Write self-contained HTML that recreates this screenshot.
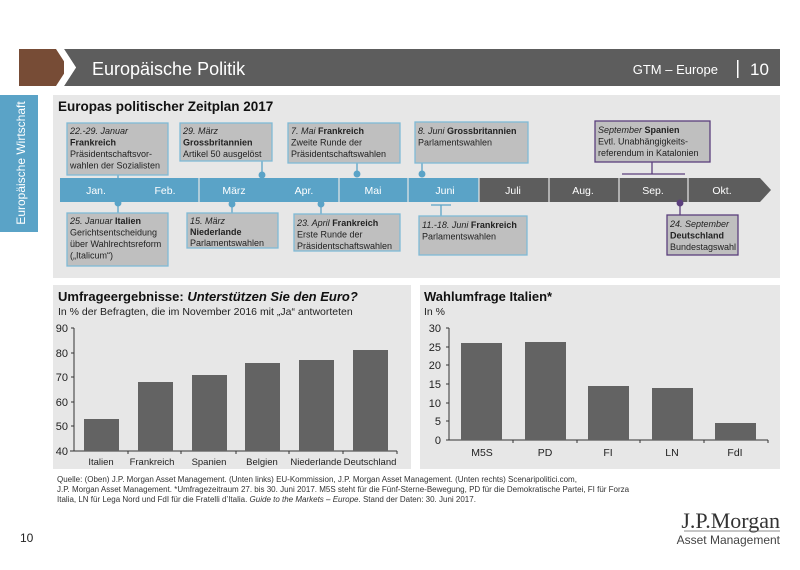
<!DOCTYPE html>
<html><head><meta charset="utf-8"><style>
body{margin:0;width:800px;height:565px;background:#fff;overflow:hidden;font-family:"Liberation Sans",sans-serif;}
svg text{font-family:"Liberation Sans",sans-serif;}
</style></head><body>
<svg width="800" height="565" viewBox="0 0 800 565" xmlns="http://www.w3.org/2000/svg">
<!-- header -->
<rect x="19" y="49" width="45" height="37" fill="#774c36"/>
<polygon points="64,49 780,49 780,86 64,86 76,67.5" fill="#5d5d5d"/>
<polygon points="56,49 64,49 76,67.5 64,86 56,86 68,67.5" fill="#fff"/>
<text x="92" y="75" font-size="18" fill="#fff">Europäische Politik</text>
<text x="718" y="74" font-size="13" fill="#fff" text-anchor="end">GTM – Europe</text>
<rect x="737" y="60" width="1.5" height="18" fill="#fff"/>
<text x="750" y="75" font-size="17" fill="#fff">10</text>
<!-- sidebar -->
<rect x="0" y="95" width="38" height="137" fill="#5aa3c7"/>
<text transform="translate(25,163) rotate(-90)" font-size="12" fill="#fff" text-anchor="middle">Europäische Wirtschaft</text>
<!-- top panel -->
<rect x="53" y="95" width="727" height="183" fill="#e7e7e7"/>
<text x="58" y="111" font-size="13.5" font-weight="bold" fill="#111">Europas politischer Zeitplan 2017</text>
<!-- timeline -->
<rect x="60" y="178" width="419" height="24" fill="#5aa3c7"/>
<polygon points="479,178 760,178 771,190 760,202 479,202" fill="#5d5d5d"/>
<g stroke="#e7e7e7" stroke-width="1.2"><line x1="199" y1="178" x2="199" y2="202"/><line x1="339" y1="178" x2="339" y2="202"/><line x1="408" y1="178" x2="408" y2="202"/><line x1="479" y1="178" x2="479" y2="202"/><line x1="549" y1="178" x2="549" y2="202"/><line x1="619" y1="178" x2="619" y2="202"/><line x1="688" y1="178" x2="688" y2="202"/></g>
<g font-size="10.5" fill="#fff" text-anchor="middle">
<text x="96" y="194">Jan.</text><text x="165" y="194">Feb.</text><text x="234" y="194">März</text><text x="304" y="194">Apr.</text><text x="373" y="194">Mai</text><text x="445" y="194">Juni</text><text x="513" y="194">Juli</text><text x="583" y="194">Aug.</text><text x="653" y="194">Sep.</text><text x="722" y="194">Okt.</text>
</g>
<!-- connectors -->
<g stroke="#5aa3c7" stroke-width="1.3" fill="#5aa3c7">
<line x1="118" y1="175" x2="118" y2="178"/>
<line x1="262" y1="161" x2="262" y2="175"/><circle cx="262" cy="175" r="2.8"/>
<line x1="357" y1="163" x2="357" y2="174"/><circle cx="357" cy="174" r="2.8"/>
<line x1="422" y1="163" x2="422" y2="174"/><circle cx="422" cy="174" r="2.8"/>
<line x1="118" y1="203" x2="118" y2="213"/><circle cx="118" cy="203" r="2.8"/>
<line x1="232" y1="204" x2="232" y2="213"/><circle cx="232" cy="204" r="2.8"/>
<line x1="321" y1="204" x2="321" y2="214"/><circle cx="321" cy="204" r="2.8"/>
<line x1="441" y1="205" x2="441" y2="216"/><line x1="431" y1="205" x2="451" y2="205"/>
</g>
<g stroke="#5b3f7d" stroke-width="1.3" fill="#5b3f7d">
<line x1="652" y1="162" x2="652" y2="174"/><line x1="622" y1="174" x2="685" y2="174"/>
<line x1="680" y1="203" x2="680" y2="215"/><circle cx="680" cy="203" r="2.8"/>
</g>
<!-- boxes -->
<g fill="#bfbfbf" stroke="#7fbad6" stroke-width="1.3">
<rect x="67" y="123" width="101" height="52"/>
<rect x="180" y="123" width="92" height="38"/>
<rect x="288" y="123" width="112" height="40"/>
<rect x="415" y="122" width="113" height="41"/>
<rect x="67" y="213" width="101" height="53"/>
<rect x="187" y="213" width="91" height="35"/>
<rect x="294" y="214" width="106" height="37"/>
<rect x="419" y="216" width="108" height="39"/>
</g>
<g fill="#bfbfbf" stroke="#5b3f7d" stroke-width="1.3">
<rect x="595" y="121" width="115" height="41"/>
<rect x="667" y="215" width="71" height="40"/>
</g>
<g font-size="9" fill="#222">
<text x="70" y="134"><tspan font-style="italic">22.-29. Januar</tspan><tspan x="70" dy="11.5" font-weight="bold">Frankreich</tspan><tspan x="70" dy="11.5">Präsidentschaftsvor-</tspan><tspan x="70" dy="11.5">wahlen der Sozialisten</tspan></text>
<text x="183" y="134"><tspan font-style="italic">29. März</tspan><tspan x="183" dy="11.5" font-weight="bold">Grossbritannien</tspan><tspan x="183" dy="11.5">Artikel 50 ausgelöst</tspan></text>
<text x="291" y="134"><tspan font-style="italic">7. Mai </tspan><tspan font-weight="bold">Frankreich</tspan><tspan x="291" dy="11.5">Zweite Runde der</tspan><tspan x="291" dy="11.5">Präsidentschaftswahlen</tspan></text>
<text x="418" y="134"><tspan font-style="italic">8. Juni </tspan><tspan font-weight="bold">Grossbritannien</tspan><tspan x="418" dy="11.5">Parlamentswahlen</tspan></text>
<text x="598" y="133"><tspan font-style="italic">September </tspan><tspan font-weight="bold">Spanien</tspan><tspan x="598" dy="11.5">Evtl. Unabhängigkeits-</tspan><tspan x="598" dy="11.5">referendum in Katalonien</tspan></text>
<text x="70" y="224"><tspan font-style="italic">25. Januar </tspan><tspan font-weight="bold">Italien</tspan><tspan x="70" dy="11.5">Gerichtsentscheidung</tspan><tspan x="70" dy="11.5">über Wahlrechtsreform</tspan><tspan x="70" dy="11.5">(„Italicum“)</tspan></text>
<text x="190" y="224"><tspan font-style="italic">15. März</tspan><tspan x="190" dy="11" font-weight="bold">Niederlande</tspan><tspan x="190" dy="11">Parlamentswahlen</tspan></text>
<text x="297" y="226"><tspan font-style="italic">23. April </tspan><tspan font-weight="bold">Frankreich</tspan><tspan x="297" dy="11.5">Erste Runde der</tspan><tspan x="297" dy="11.5">Präsidentschaftswahlen</tspan></text>
<text x="422" y="228"><tspan font-style="italic">11.-18. Juni </tspan><tspan font-weight="bold">Frankreich</tspan><tspan x="422" dy="11.5">Parlamentswahlen</tspan></text>
<text x="670" y="227"><tspan font-style="italic">24. September</tspan><tspan x="670" dy="11.5" font-weight="bold">Deutschland</tspan><tspan x="670" dy="11.5">Bundestagswahl</tspan></text>
</g>
<!-- bottom left panel -->
<rect x="53" y="285" width="358" height="184" fill="#e7e7e7"/>
<text x="58" y="301" font-size="13" font-weight="bold" fill="#111">Umfrageergebnisse: <tspan font-style="italic">Unterstützen Sie den Euro?</tspan></text>
<text x="58" y="315" font-size="10.5" fill="#222">In % der Befragten, die im November 2016 mit „Ja“ antworteten</text>
<g font-size="11" fill="#222" text-anchor="end">
<text x="68" y="332">90</text><text x="68" y="357">80</text><text x="68" y="381">70</text><text x="68" y="406">60</text><text x="68" y="430">50</text><text x="68" y="455">40</text>
</g>
<g stroke="#333" stroke-width="1">
<line x1="74" y1="328" x2="74" y2="451"/><line x1="70" y1="451" x2="397" y2="451"/>
<line x1="71" y1="328" x2="74" y2="328"/><line x1="71" y1="353" x2="74" y2="353"/><line x1="71" y1="377" x2="74" y2="377"/><line x1="71" y1="402" x2="74" y2="402"/><line x1="71" y1="426" x2="74" y2="426"/>
<line x1="128" y1="451" x2="128" y2="454"/><line x1="181" y1="451" x2="181" y2="454"/><line x1="236" y1="451" x2="236" y2="454"/><line x1="289" y1="451" x2="289" y2="454"/><line x1="343" y1="451" x2="343" y2="454"/><line x1="397" y1="451" x2="397" y2="454"/>
</g>
<g fill="#636363">
<rect x="84" y="419" width="35" height="32"/>
<rect x="138" y="382" width="35" height="69"/>
<rect x="192" y="375" width="35" height="76"/>
<rect x="245" y="363" width="35" height="88"/>
<rect x="299" y="360" width="35" height="91"/>
<rect x="353" y="350" width="35" height="101"/>
</g>
<g font-size="9.5" fill="#222" text-anchor="middle">
<text x="101" y="465">Italien</text><text x="152" y="465">Frankreich</text><text x="209" y="465">Spanien</text><text x="262" y="465">Belgien</text><text x="316" y="465">Niederlande</text><text x="370" y="465">Deutschland</text>
</g>
<!-- bottom right panel -->
<rect x="420" y="285" width="360" height="184" fill="#e7e7e7"/>
<text x="424" y="301" font-size="13" font-weight="bold" fill="#111">Wahlumfrage Italien*</text>
<text x="424" y="315" font-size="10.5" fill="#222">In %</text>
<g font-size="11" fill="#222" text-anchor="end">
<text x="441" y="332">30</text><text x="441" y="351">25</text><text x="441" y="369">20</text><text x="441" y="388">15</text><text x="441" y="407">10</text><text x="441" y="425">5</text><text x="441" y="444">0</text>
</g>
<g stroke="#333" stroke-width="1">
<line x1="449" y1="328" x2="449" y2="440"/><line x1="446" y1="440" x2="768" y2="440"/>
<line x1="446" y1="328" x2="449" y2="328"/><line x1="446" y1="347" x2="449" y2="347"/><line x1="446" y1="365" x2="449" y2="365"/><line x1="446" y1="384" x2="449" y2="384"/><line x1="446" y1="403" x2="449" y2="403"/><line x1="446" y1="421" x2="449" y2="421"/>
<line x1="513" y1="440" x2="513" y2="443"/><line x1="577" y1="440" x2="577" y2="443"/><line x1="640" y1="440" x2="640" y2="443"/><line x1="704" y1="440" x2="704" y2="443"/><line x1="768" y1="440" x2="768" y2="443"/>
</g>
<g fill="#636363">
<rect x="461" y="343" width="41" height="97"/>
<rect x="525" y="342" width="41" height="98"/>
<rect x="588" y="386" width="41" height="54"/>
<rect x="652" y="388" width="41" height="52"/>
<rect x="715" y="423" width="41" height="17"/>
</g>
<g font-size="10.5" fill="#222" text-anchor="middle">
<text x="482" y="456">M5S</text><text x="545" y="456">PD</text><text x="608" y="456">FI</text><text x="672" y="456">LN</text><text x="735" y="456">FdI</text>
</g>
<!-- footer -->
<g font-size="8" fill="#333">
<text x="57" y="482">Quelle: (Oben) J.P. Morgan Asset Management. (Unten links) EU-Kommission, J.P. Morgan Asset Management. (Unten rechts) Scenaripolitici.com,</text>
<text x="57" y="492">J.P. Morgan Asset Management. *Umfragezeitraum 27. bis 30. Juni 2017. M5S steht für die Fünf-Sterne-Bewegung, PD für die Demokratische Partei, FI für Forza</text>
<text x="57" y="502">Italia, LN für Lega Nord und FdI für die Fratelli d’Italia. <tspan font-style="italic">Guide to the Markets – Europe</tspan>. Stand der Daten: 30. Juni 2017.</text>
</g>
<text x="20" y="542" font-size="12" fill="#222">10</text>
<text x="780" y="528" font-size="22" fill="#333" text-anchor="end" style="font-family:'Liberation Serif',serif">J.P.Morgan</text>
<line x1="684" y1="531" x2="780" y2="531" stroke="#666" stroke-width="0.8"/>
<text x="780" y="544" font-size="12" fill="#444" text-anchor="end">Asset Management</text>
</svg>
</body></html>
